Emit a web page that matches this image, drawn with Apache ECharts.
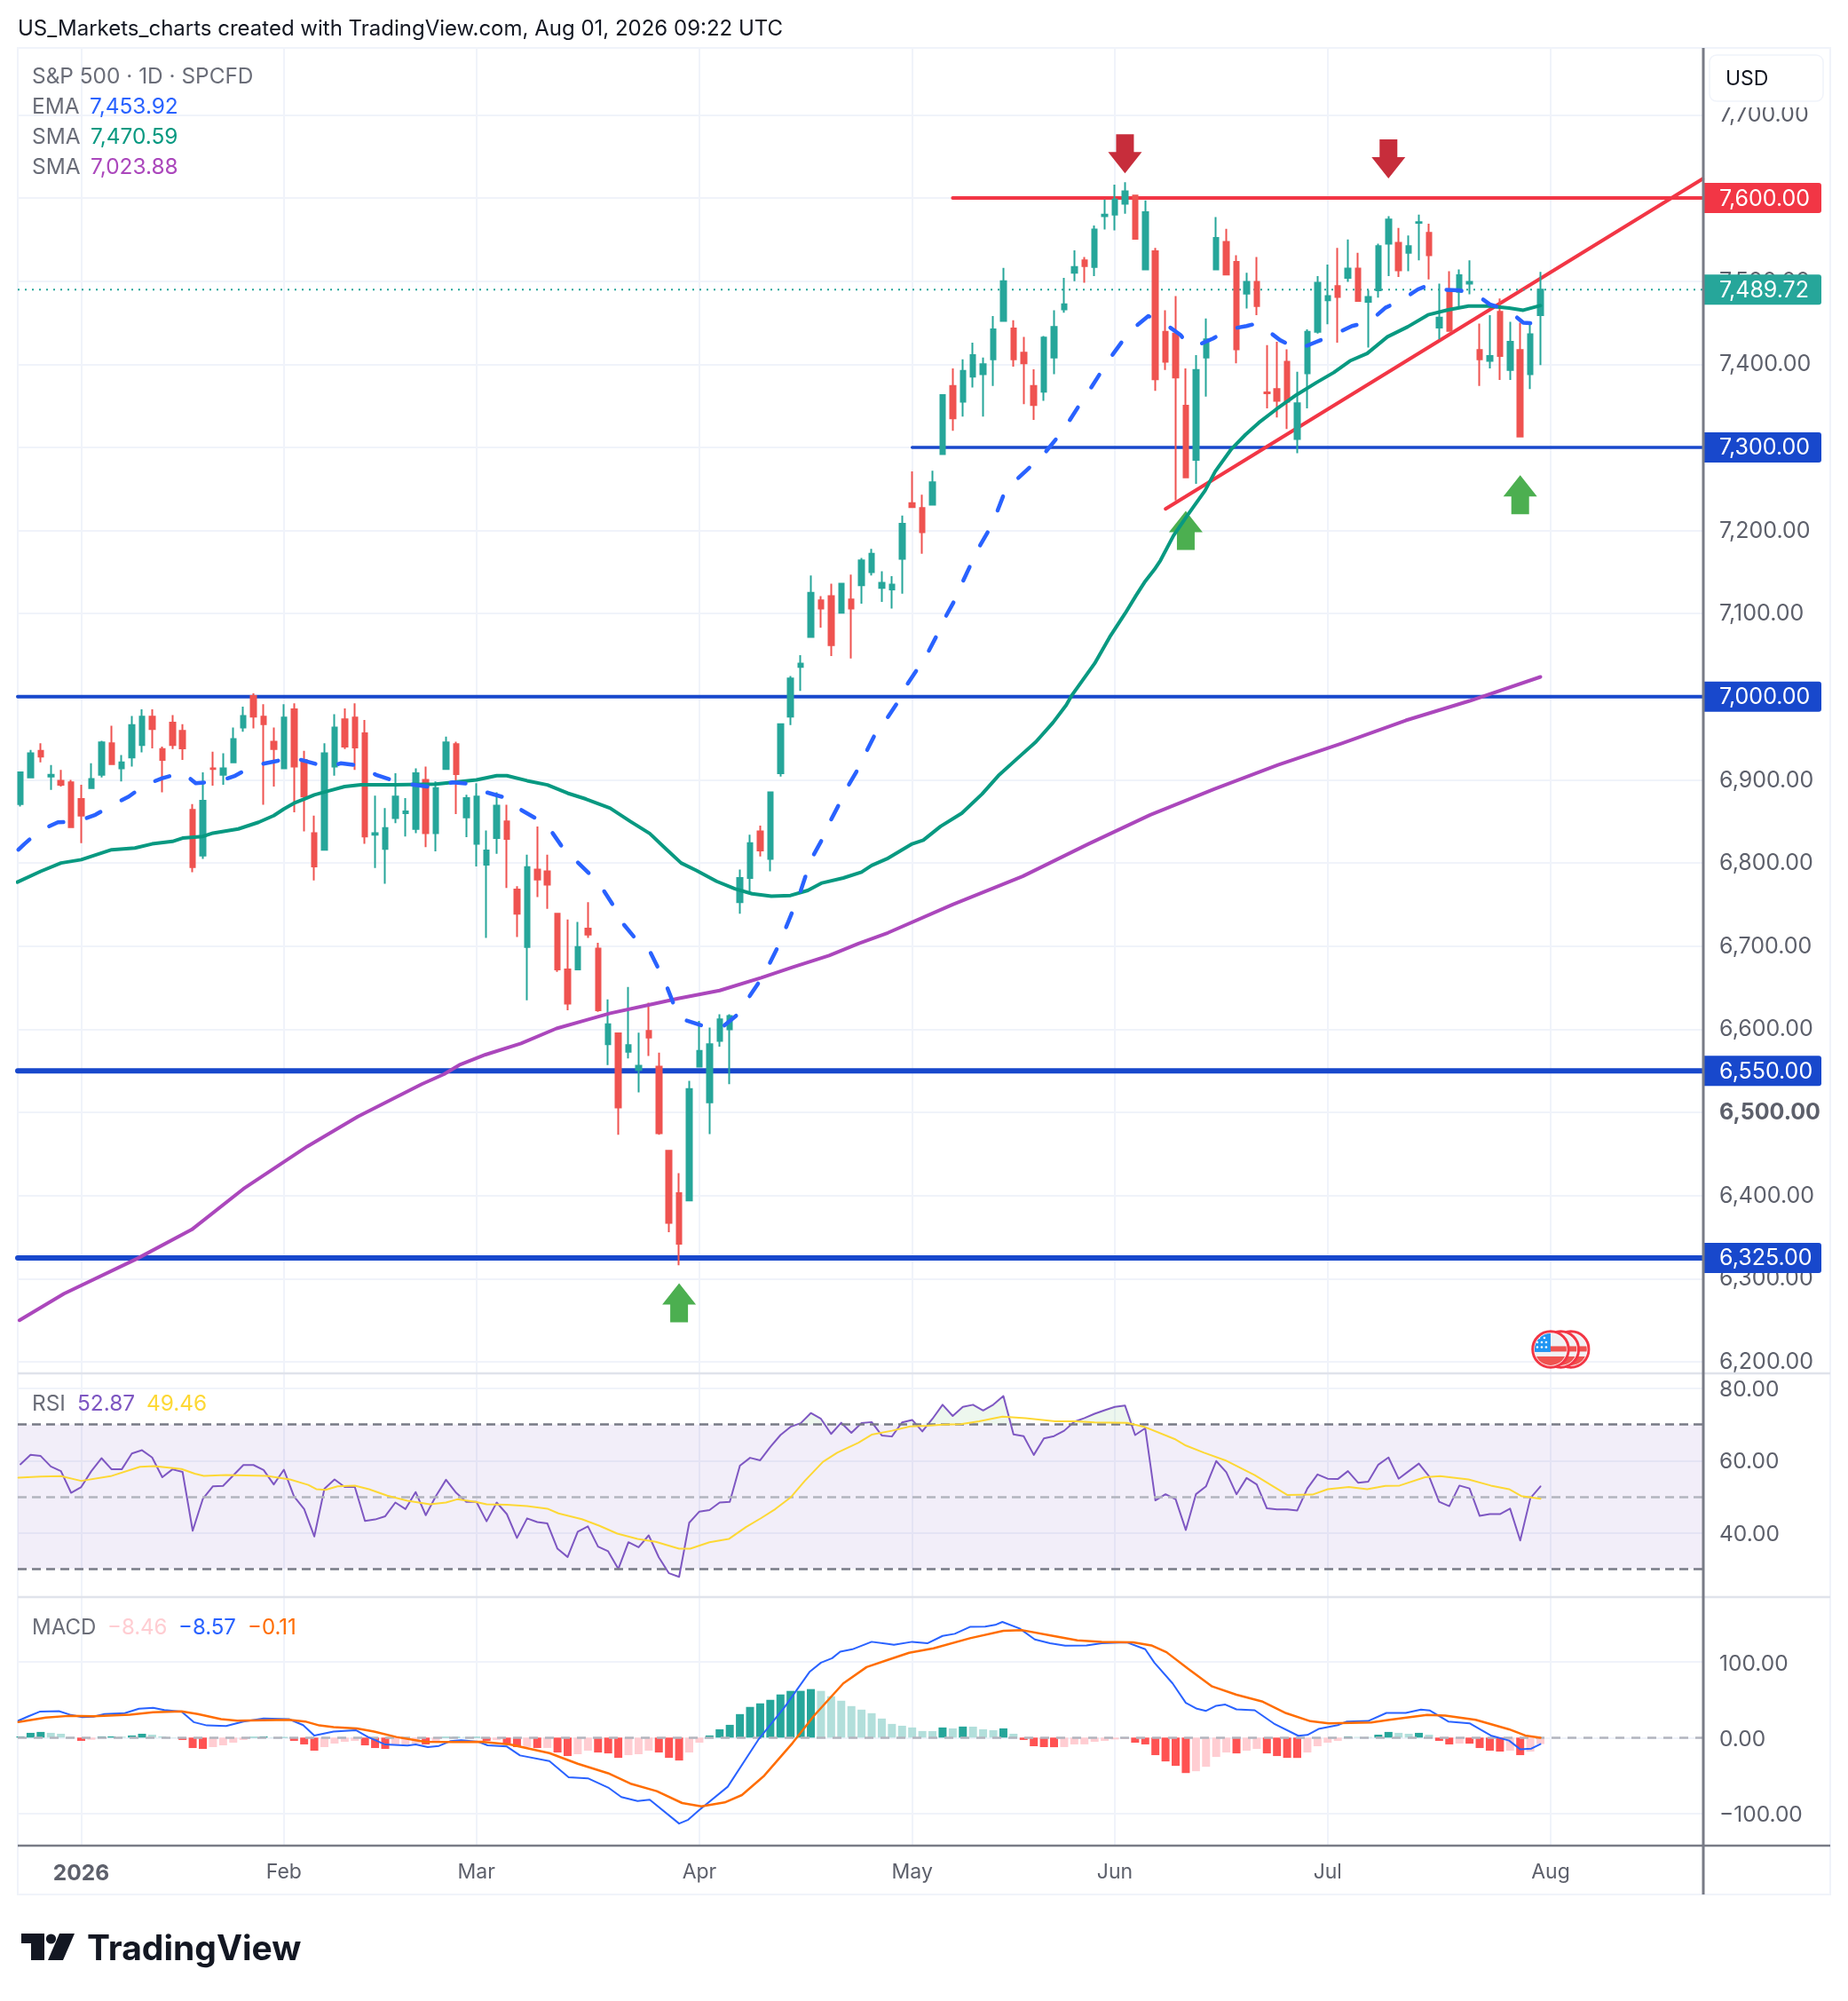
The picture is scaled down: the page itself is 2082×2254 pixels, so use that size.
<!DOCTYPE html>
<html>
<head>
<meta charset="utf-8">
<script src="https://cdn.jsdelivr.net/npm/echarts@6/dist/echarts.min.js"></script>
<style>html,body{margin:0;padding:0;background:#fff}#c{width:2082px;height:2254px}</style>
</head>
<body>
<div id="c"></div>
<script>
// ---------- candles: first bar is index -6, index 0 = 2 Jan 2026 (trading days) ----------
const firstBar = -6;
const direction = "GGRGRR"+"RGGRGGGRRR"+"RRGRGGGRRR"+"GRRRGGRRRG"+"GGGGRGGRGG"+"GGRRGRRRRG"+"RRGRGGRRRR"+"GGGGGGGRGG"+"GGGRRGRGGG"+"GGRRGGRGGG"+"GGRRRGGGGR"+"GGGGRGRRRR"+"GGGRRGRRRR"+"GGGGRGRGGG"+"RGGRGRGGRG"+"RGRGG";
const highs = [6910,6936,6944,6918,6912,6900,
6894,6920,6947,6965,6930,6977,6985,6985,6940,6978,
6967,6871,6909,6934,6932,6963,6988,7004,6991,6963,
6991,6992,6935,6857,6944,6979,6986,6992,6972,6881,
6866,6908,6878,6914,6916,6898,6952,6946,6882,6896,
6839,6885,6870,6772,6810,6844,6810,6739,6732,6729,
6753,6704,6636,6595,6651,6596,6632,6572,6454,6427,
6538,6610,6602,6618,6618,6792,6834,6845,6886,6968,
7025,7050,7146,7121,7136,7137,7147,7167,7178,7151,
7145,7218,7271,7243,7272,7364,7395,7406,7426,7408,
7458,7516,7453,7433,7394,7434,7465,7504,7537,7529,
7567,7598,7616,7619,7603,7597,7540,7465,7482,7395,
7411,7455,7577,7563,7531,7510,7529,7423,7427,7418,
7391,7442,7506,7520,7540,7550,7534,7489,7545,7578,
7564,7555,7580,7569,7497,7512,7514,7525,7449,7459,
7479,7451,7450,7448,7511];
const bodyTops = [6909,6932,6935,6906,6899,6897,
6877,6901,6945,6944,6921,6966,6976,6976,6937,6969,
6959,6864,6875,6914,6914,6949,6977,7001,6976,6946,
6975,6985,6924,6836,6932,6963,6973,6975,6956,6836,
6842,6880,6862,6908,6900,6890,6945,6943,6878,6880,
6815,6869,6850,6768,6795,6792,6790,6739,6672,6699,
6721,6697,6606,6595,6581,6556,6598,6555,6454,6403,
6528,6574,6582,6612,6616,6782,6824,6838,6885,6967,
7022,7040,7125,7116,7121,7136,7117,7164,7172,7137,
7135,7208,7233,7227,7258,7363,7374,7392,7411,7400,
7442,7500,7443,7414,7374,7432,7445,7472,7517,7525,
7562,7580,7598,7608,7603,7583,7536,7439,7437,7350,
7393,7430,7552,7547,7523,7499,7499,7366,7370,7403,
7353,7439,7498,7482,7494,7515,7515,7481,7542,7574,
7546,7542,7571,7558,7456,7487,7507,7499,7417,7410,
7463,7427,7417,7436,7489.72];
const bodyBottoms = [6871,6903,6928,6904,6894,6843,
6857,6890,6906,6919,6914,6927,6942,6961,6924,6942,
6938,6795,6809,6913,6906,6921,6963,6976,6967,6937,
6914,6916,6880,6796,6816,6916,6940,6939,6832,6834,
6817,6854,6860,6841,6836,6836,6913,6907,6855,6823,
6798,6830,6829,6739,6699,6780,6774,6672,6631,6672,
6714,6623,6582,6506,6573,6551,6590,6475,6367,6342,
6394,6555,6512,6586,6600,6753,6782,6815,6805,6908,
6976,7036,7072,7106,7062,7101,7106,7134,7150,7131,
7129,7166,7228,7198,7231,7292,7335,7355,7385,7388,
7406,7452,7406,7401,7351,7367,7408,7466,7510,7518,
7517,7578,7580,7593,7551,7514,7382,7403,7384,7264,
7285,7408,7514,7508,7418,7485,7470,7365,7356,7355,
7310,7389,7439,7477,7481,7504,7476,7475,7489,7545,
7513,7534,7570,7531,7444,7440,7487,7497,7406,7404,
7410,7393,7313,7388,7459];
const lows = [6868,6903,6921,6888,6892,6843,
6824,6890,6903,6919,6898,6916,6933,6938,6885,6937,
6924,6789,6805,6893,6894,6921,6958,6962,6870,6892,
6913,6861,6838,6779,6816,6905,6937,6912,6823,6794,
6775,6848,6832,6836,6819,6814,6913,6859,6831,6796,
6710,6811,6770,6711,6635,6759,6745,6669,6623,6672,
6710,6621,6557,6473,6565,6524,6568,6473,6356,6316,
6394,6554,6474,6579,6534,6739,6763,6808,6790,6904,
6966,7007,7072,7083,7049,7101,7046,7112,7146,7114,
7106,7124,7228,7172,7231,7292,7320,7337,7372,7337,
7374,7452,7397,7352,7333,7356,7388,7462,7500,7498,
7506,7562,7561,7581,7550,7514,7368,7393,7236,7264,
7256,7361,7514,7507,7401,7467,7459,7347,7336,7322,
7293,7347,7437,7448,7426,7499,7476,7420,7480,7506,
7505,7512,7525,7502,7430,7439,7469,7484,7374,7395,
7381,7381,7312,7370,7399];

// ---------- moving averages (sampled bar index, value) ----------
const ema20X = [-6.2,-5.6,-4.1,-2.3,-0.4,1.4,3.1,4.7,6.3,8,10,11.3,13.5,15.2,17,19.4,20.5,22.3,24.4,25.6,27.6,29.1,31.1,32.3,34.8,36.6,38.5,40,42,43.4,45.1,46.4,47.6,48.9,50.4,51.5,52.6,53.4,54.7,56.1,57,57.8,58.5,58.9,59.6,61.4,63.3,64.7,65.8,66.9,67.8,68.7,69.4,70.2,70.9,71.5,72.1,73.1,73.9,74.8,75.6,76.6,77.4,78.3,79.4,80.5,81.4,82.5,83.5,84.4,85.2,86.1,86.9,87.7,88.5,89.5,90.3,91,92.2,93.6,94.2,95,96.2,97.3,98.4,99.4,100.5,101.5,102.7,103.8,105.3,106.9,108.5,109.1,110,111.7,113.2,115,116,116.8,118.3,120.1,121.9,123.5,125.4,127.1,128.7,130.3,131.9,132.9,133.9,135.9,137.4,139,140.8,142.3,143.3,144];
const ema20 = [6816,6823,6839,6849,6850,6858,6870,6880,6894,6902,6909,6896,6898,6905,6917,6923,6928,6922,6915,6920,6917,6906,6898,6895,6891,6897,6895,6885,6878,6864,6852,6838,6817,6802,6784,6768,6747,6728,6709,6694,6672,6651,6629,6617,6611,6604,6603,6617,6637,6657,6676,6698,6718,6742,6763,6785,6806,6828,6850,6871,6891,6912,6932,6954,6972,6992,7013,7033,7052,7073,7094,7114,7136,7157,7178,7199,7220,7242,7260,7276,7280,7292,7310,7328,7349,7367,7388,7407,7427,7443,7458,7449,7435,7425,7422,7431,7442,7446,7449,7443,7429,7418,7427,7435,7446,7451,7468,7477,7490,7495,7490,7489,7486,7472,7465,7450,7449,7453.92];
const sma50X = [-6.3,-4,-2,0,3,5.3,7,9,10,12,13,15.5,17.5,19,20,21,22,23,24.5,26,27.6,31,35,39,41,42,44,46,48,49.8,52.2,54.2,56.1,57.7,59.2,60.7,62.7,64.5,66.2,68.1,70,71.7,73.1,75.2,77,78,79.5,82,83.1,84.8,86.9,88.9,90.5,92.4,94.2,95.9,97.2,97.7,100,101.5,103,104.1,105,105.9,106.5,107.8,109.2,110.9,111.9,113.5,114.9,116.2,117.9,119.9,121.9,123.6,125.2,126.9,128.9,130.9,132.9,134.9,136.9,138.9,140.9,142.3,144];
const sma50 = [6777,6790,6800,6804,6816,6818,6823,6826,6830,6832,6836,6841,6849,6857,6865,6872,6877,6882,6887,6892,6894,6894,6895,6900,6905,6905,6899,6894,6884,6877,6866,6850,6835.5,6817,6800,6791,6778,6769,6763,6760,6761,6767,6776,6782,6789,6797,6805,6823,6827.5,6844,6860,6883,6905,6926,6945.6,6969,6990,7000.7,7040,7072,7100,7122,7139,7153,7164,7194,7219,7248,7271,7298,7315.4,7329.6,7345.6,7363,7378,7390,7404,7413,7433,7445,7459.4,7465.4,7470,7470,7467.6,7465,7470.59];
const sma200X = [-6.1,-1.7,5.5,10.9,16,22.3,27.3,33.6,35.8,37.3,39.9,43.4,46.9,49.8,52.2,56.3,58.9,63,67.1,70.3,73.8,76.7,79.6,86,92.9,99.4,105.5,111.8,118.1,124.4,130.7,137,144];
const sma200 = [6250,6282,6324,6359,6408,6459,6495,6534,6546,6557,6569.5,6583,6601,6611,6619.3,6630,6637,6646.6,6662,6675,6688.6,6703,6716,6750,6784,6823,6858,6889,6918,6944,6971.5,6995,7023.88];

// ---------- drawings ----------
const fullLevels = [7000,6550,6325];
const resistanceStart = [86,7600];
const supportStart = [82,7300];
const trendline = [[107,7226],[160,7623]];
const lastPrice = 7489.72;
const upArrows = [[59,6271],[109,7200],[142,7243]];
const downArrows = [[103,7653],[129,7647]];
const priceTags = [[7600,'#F23645'],[7489.72,'#26A69A'],[7300,'#1848CC'],[7000,'#1848CC'],[6550,'#1848CC'],[6325,'#1848CC']];
const eventMarks = [[147,6215],[146,6215],[145,6215]];

// ---------- RSI ----------
const rsi = [59,61.6,61.3,58.4,57.1,51.1,52.7,57.1,60.7,57.6,57.6,62,62.9,60.9,55.4,57.6,56.9,40.6,49.4,52.9,53,55.9,58.8,58.8,57.4,53.4,57.5,50.1,46.6,39,52.2,54.8,52.7,52.7,43.3,43.7,44.6,48.4,46.6,51.3,44.9,50.2,54.7,51.1,48.6,48.6,43.2,48.4,45.2,38.6,44,43,42.6,35.6,33.3,40.3,41.8,36.2,34.9,30,37.4,36,39.3,33.2,28.8,27.8,42.8,45.9,46.3,
48.4,48.6,58.6,60.8,60.1,63.8,67.1,69.4,70.4,73.2,71.6,67.4,70.5,67.7,70.4,70.7,67,66.7,70.6,71.3,68.1,71.6,75.5,72.4,74.9,75.5,73.9,75.5,77.9,67.3,66.8,61.6,66.2,66.8,68.3,70.8,71.8,73,74,74.9,75.3,67.1,69,49,50.7,49.3,40.8,50.7,52.9,59.9,56.8,50.7,55.2,53.4,46.8,46.5,46.5,46.2,52.3,56.2,55,54.9,57.1,53.9,54.2,58.9,60.9,55,57.1,59.2,55.7,48.6,47.4,53.1,52.3,44.7,45.2,45.2,46.7,37.9,49.6,52.87];
const rsiMaX = [-6.2,-4,-2,0,2.9,5.8,7.2,9.9,11.2,12.1,14.3,18.3,20.6,22.4,23.2,24.1,25.3,27,28.4,30.2,32.2,34.4,36,37.1,38.9,40,42,44,46,47.1,49.4,51.1,52.9,54.9,56.7,59,60.1,62,63.9,65.6,67.1,68.5,70,71.4,73.2,74.6,76.7,78,80,81.8,83.5,85,86.8,88.6,90.9,93.2,96.1,98.2,100,103.2,105,107.9,109,110.8,112.9,115.8,119,121.5,123,125.1,126.9,128.7,130.1,132.6,134.1,136.9,139.1,140.9,142.1,144];
const rsiMa = [55.3,55.6,55.7,54.4,55.7,58.3,58.5,57.7,56.4,55.8,56,55.8,54.8,53.3,52.1,51.9,52.9,53.1,52.1,50.3,48.9,47.9,48.4,49.3,48.6,47.9,47.8,47.4,46.7,45.4,43.8,42,39.8,38.3,37.5,35.6,35.6,37.4,38.3,41.6,44.1,46.6,49.8,54.4,59.7,62.2,65,67.2,68.3,69.5,69.7,70,70.1,70.9,72.2,71.8,70.9,70.9,70.6,70.5,69.3,66,64.2,62.2,60.1,56,50.5,50.6,52.1,52.7,52.1,53,53.1,55.4,55.7,54.8,53.1,52.1,50.2,49.46];

// ---------- MACD ----------
const macdX = [-6.2,-5.2,-4.1,-2.2,-1,0.1,1.2,2.3,4.3,5.7,7.1,8.2,9.9,11.1,12.4,14.3,16,18,20.5,21.9,23,24.9,27.1,28.3,30,32.2,33,34.2,35.3,36.4,37.5,39.2,40.1,42,43.3,46.2,48.1,50,52,53.3,54.9,56.1,59,59.9,61,63.8,66.8,69.4,71.9,73,74.1,74.9,76.1,78,79.6,80.2,82,83.5,85,86.2,87.7,89.2,90.2,90.9,92.6,94.1,95.6,97.1,99.2,100.7,103.2,105,105.9,107.7,109,110.1,111,112,112.9,114,115.8,117.7,120.1,121,122.1,124,124.9,127,128.8,130.7,132.2,133.1,134.9,137,139.1,140.9,142,143.1,144];
const macd = [22.4,28.3,34.3,35,29.9,27.2,27.6,31.1,32.3,38.2,39.4,36.6,34.3,20.5,16.1,15.4,21.3,25.2,24.4,16.5,2.8,7.9,9.8,0.8,-9.1,-10.6,-9.1,-12.6,-11,-4.7,-3.5,-5.5,-10.2,-11.8,-23.6,-31.1,-52.4,-53.9,-66.1,-78.7,-83.9,-82.3,-113.8,-108.7,-95.7,-65,-3.1,40.2,87.4,99.2,105.1,113.8,116.9,126.8,124,122.8,126.8,124.8,134.6,137.4,146.5,146.9,149.2,153.1,144.5,129.9,124.8,121.7,122,124.8,126,116.9,99.2,71.7,46.1,38.2,35.4,42.1,43.7,37.4,36.2,18.5,2.4,3.5,11.4,16.5,21.3,22,32.7,32.7,37,35.8,21.3,18.9,2.8,-3.9,-15.4,-14.6,-8.57];
const signalX = [-6.2,-3.5,-1.3,1.2,4.8,7.1,9.9,11.5,13.8,15.4,20.5,22.1,23.5,24.9,27.2,28.9,31.1,33.9,36.7,39.5,42.3,46.2,49,52,54.3,56.8,59.3,61.2,63.5,65.2,67.4,70.2,72.4,75.2,77.5,79.6,81.7,84.1,87.7,91,92.9,95.9,98.3,100.7,103.8,105.6,107.1,109.2,111.6,114,116.5,118.9,121.3,123.1,127.3,129.1,132.8,134.6,137.6,140.9,142.5,144];
const signal = [20.5,26.4,28.7,28.3,30.3,33.5,34.6,31.1,24.4,22.4,23.6,21.3,16.1,13.8,12.2,7.9,0.8,-5.5,-5.9,-5.5,-9.1,-20.5,-34.6,-47.2,-61.4,-70.9,-86.6,-90.9,-85.8,-76,-50.4,-7.1,30.3,71.7,93.3,102.8,112.2,118.1,131.5,141.3,142.1,134.6,128.7,126.8,126,122,113,91.3,67.7,56.7,48,32.3,21.7,18.9,20.1,23.6,29.9,29.1,23.6,11,2.8,-0.11];
const hist = [1.6,6.3,7.5,6.3,5.1,0.8,-4.3,-2.8,1.6,1.6,1.2,2.8,5.1,3.9,1.6,0.4,-3.1,-13.8,-15,-12.6,-10.2,-6.7,-3.1,0.8,1.6,0.5,0.6,-4.3,-9,-17.3,-12.6,-7.9,-5.5,-4.3,-10.2,-13.8,-15,-10.2,-9,-8,-9,-4.3,0.8,0.8,0.7,0.8,-4.3,-3.5,-9,-12.6,-12.5,-13.8,-13.7,-19.7,-24.4,-22,-17.3,-19.7,-20.9,-26.8,-23.2,-22,-17.3,-19.7,-26.8,-30.3,-19.7,-6.7,2.8,11,16.9,31.1,40.6,45.3,50,57.1,61.8,61.9,64.2,61.8,54.7,48.8,41.7,37,32.3,25.2,18.1,15.7,13.4,8.7,8.6,13.4,12.2,14.6,14.5,11,9.8,12.2,5.1,-3.1,-11.4,-12.6,-12.7,-12.5,-9,-8.9,-5.5,-4.3,-2.4,-2,-6.7,-9,-23.2,-31.5,-37.4,-46.9,-44.5,-38.6,-25.6,-19.7,-20.9,-17.3,-15,-20.9,-24.4,-26.8,-26.9,-19.7,-11.4,-6.7,-4.3,1.6,0.8,0.7,3.9,7.5,6.3,5.1,6.3,3.9,-4.3,-9,-7.9,-8,-13.8,-17.3,-18.5,-17.3,-23.2,-18.5,-8.46];

// ---------- ticks ----------
const timeTicks = [0,20,39,61,82,102,123,145];
const timeLabels = ['2026','Feb','Mar','Apr','May','Jun','Jul','Aug'];
const priceTicks = [6200,6300,6400,6500,6600,6700,6800,6900,7000,7100,7200,7300,7400,7500,7600,7700];
const rsiTicks = [40,60,80];
const macdTicks = [-100,0,100];

// ---------- layout ----------
const FONT = 'Inter, "Noto Sans", sans-serif';
const plotL = 20, plotR = 1919, frameR = 2062;
const xMin = -6.263, xMax = 160.07;
const UP = '#26A69A', DOWN = '#EF5350', GRID = '#F0F3FA', AXIS = '#787B86', TXT = '#5D606B';

const fmt = v => v.toLocaleString('en-US',{minimumFractionDigits:2,maximumFractionDigits:2}).replace('-','\u2212');
const zip = (x,y) => x.map((v,k)=>[v,y[k]]);
const barIdx = k => firstBar + k;

const candleData = highs.map((h,k)=>{
  const up = direction[k]==='G';
  return [barIdx(k), up?bodyBottoms[k]:bodyTops[k], up?bodyTops[k]:bodyBottoms[k], lows[k], h];
});

function xAxisOf(gridIndex, showLabels){
  return {type:'value',gridIndex,min:xMin,max:xMax,axisLine:{show:false},
    axisTick:{show:false,customValues:timeTicks},
    splitLine:{show:true,lineStyle:{color:GRID,width:2}},
    axisLabel: showLabels ? {show:true,customValues:timeTicks,margin:19,fontFamily:FONT,fontSize:23,color:TXT,
      formatter:v=>{const s=timeLabels[timeTicks.indexOf(v)]||'';return s==='2026'?'{b|'+s+'}':s;},
      rich:{b:{fontWeight:'bold',fontFamily:FONT,fontSize:24.5,color:TXT}}} : {show:false}};
}
function yAxisOf(gridIndex,min,max,ticks,bold,size,padTop){
  return {type:'value',gridIndex,position:'right',min,max,scale:true,axisLine:{show:false},
    axisTick:{show:false,customValues:ticks},
    splitLine:{show:true,lineStyle:{color:GRID,width:2}},
    axisLabel:{show:true,customValues:ticks,inside:false,margin:18,align:'left',fontFamily:FONT,fontSize:size,color:TXT,padding:[padTop,0,0,0],
      formatter:v=> v===bold?'{b|'+fmt(v)+'}':fmt(v),
      rich:{b:{fontWeight:'bold',fontFamily:FONT,fontSize:size,color:TXT}}}};
}
function plain(name,data,color,width,extra,xi,yi){
  return Object.assign({type:'line',name,data,xAxisIndex:xi||0,yAxisIndex:yi||0,showSymbol:false,symbol:'none',
    silent:true,lineStyle:{color,width,cap:'round',join:'round'},z:2},extra||{});
}
const arrowUpPath = 'path://M19 0 L38 24 L29 24 L29 44 L9 44 L9 24 L0 24 Z';
const arrowDownPath = 'path://M9 0 L29 0 L29 20 L38 20 L19 44 L0 20 L9 20 Z';
const flagSvg = encodeURIComponent('<svg xmlns="http://www.w3.org/2000/svg" width="88" height="88" viewBox="0 0 44 44"><defs><clipPath id="k"><circle cx="22" cy="22" r="18"/></clipPath></defs><circle cx="22" cy="22" r="20.2" fill="#fff" stroke="#F23645" stroke-width="3"/><g clip-path="url(#k)"><rect width="44" height="44" fill="#F1F1F4"/><rect x="0" y="18.5" width="44" height="6" fill="#EF5350"/><rect x="0" y="30" width="44" height="14" fill="#EF5350"/><rect x="0" y="0" width="22" height="25" fill="#2196F3"/><g fill="#fff"><circle cx="9" cy="9" r="1.3"/><circle cx="15" cy="9" r="1.3"/><circle cx="7" cy="14" r="1.3"/><circle cx="12" cy="14" r="1.3"/><circle cx="17" cy="14" r="1.3"/><circle cx="7" cy="19.5" r="1.3"/><circle cx="12" cy="19.5" r="1.3"/><circle cx="17" cy="19.5" r="1.3"/></g></g></svg>');

const series = [];
// horizontal levels
fullLevels.forEach((lv,k)=>series.push(plain('level',[[xMin,lv],[xMax,lv]],'#1848CC',k===0?4:6)));
series.push(plain('resistance',[resistanceStart,[xMax,resistanceStart[1]]],'#F23645',4));
series.push(plain('support',[supportStart,[xMax,supportStart[1]]],'#1848CC',3.5));
series.push(plain('trend',trendline,'#F23645',4));
series.push(plain('last',[[xMin,lastPrice],[xMax,lastPrice]],UP,2,{lineStyle:{color:UP,width:2,type:[2,6]}}));
series.push({type:'scatter',data:upArrows,symbol:arrowUpPath,symbolSize:[38,44],itemStyle:{color:'#4CAF50',opacity:1},silent:true,z:2});
series.push({type:'scatter',data:downArrows,symbol:arrowDownPath,symbolSize:[38,44],itemStyle:{color:'#C72D3B',opacity:1},silent:true,z:2});
series.push({type:'scatter',data:eventMarks,symbol:'image://data:image/svg+xml;charset=utf-8,'+flagSvg,symbolSize:44,itemStyle:{opacity:1},silent:true,z:3});
// candles
series.push({type:'candlestick',layout:'horizontal',data:candleData,encode:{x:0,y:[1,2,3,4]},barWidth:6,silent:true,z:3,
  itemStyle:{color:UP,color0:DOWN,borderColor:UP,borderColor0:DOWN,borderWidth:2}});
// MAs
series.push(plain('SMA200',zip(sma200X,sma200),'#AB47BC',4,{z:4}));
series.push(plain('SMA50',zip(sma50X,sma50),'#089981',4,{z:4}));
series.push(plain('EMA',zip(ema20X,ema20),'#2962FF',4.5,{z:4,lineStyle:{color:'#2962FF',width:4.5,type:[17,27],cap:'round',join:'round'}}));
// tags
series.push({type:'custom',xAxisIndex:0,yAxisIndex:0,z:20,silent:true,clip:false,
  data:priceTags.map(t=>[0,t[0]]),encode:{x:0,y:1},
  renderItem:(params,api)=>{
    const t = priceTags[params.dataIndex];
    const y = api.coord([0,api.value(1)])[1];
    return {type:'group',children:[
      {type:'rect',shape:{x:plotR+1,y:y-17,width:132,height:34,r:[0,3,3,0]},style:{fill:t[1]}},
      {type:'text',style:{x:plotR+18,y:y+1,text:fmt(t[0]),fill:'#fff',font:'25px '+FONT,verticalAlign:'middle',align:'left'}}
    ]};
  }});
// RSI pane
series.push(plain('RSI>70',rsi.map((v,k)=>[barIdx(k),Math.max(v,70)]),UP,0,{lineStyle:{width:0,opacity:0},areaStyle:{origin:70,color:'rgba(76,175,80,0.14)'}},1,1));
series.push(plain('RSI',rsi.map((v,k)=>[barIdx(k),v]),'#7E57C2',2,{z:4,
  markArea:{silent:true,itemStyle:{color:'rgba(126,87,194,0.1)'},data:[[{yAxis:70},{yAxis:30}]]},
  markLine:{silent:true,symbol:'none',label:{show:false},animation:false,data:[
    {yAxis:70,lineStyle:{color:AXIS,width:2.5,type:[10,6]}},
    {yAxis:50,lineStyle:{color:'#B2B5BE',width:2.5,type:[10,6]}},
    {yAxis:30,lineStyle:{color:AXIS,width:2.5,type:[10,6]}}]}},1,1));
series.push(plain('RSI MA',zip(rsiMaX,rsiMa),'#FDD835',2,{z:5},1,1));
// MACD pane
series.push({type:'bar',xAxisIndex:2,yAxisIndex:2,barWidth:9,silent:true,z:2,
  data:hist.map((v,k)=>{
    const prev = k>0?hist[k-1]:0;
    const c = v>=0 ? (v>=prev?UP:'#B2DFDB') : (v>=prev?'#FFCDD2':'#FF5252');
    return {value:[barIdx(k),v],itemStyle:{color:c}};
  }),
  markLine:{silent:true,symbol:'none',label:{show:false},animation:false,z:3,data:[{yAxis:0,lineStyle:{color:'#B2B5BE',width:2.5,type:[10,8]}}]}});
series.push(plain('MACD',zip(macdX,macd),'#2962FF',2,{z:4},2,2));
series.push(plain('Signal',zip(signalX,signal),'#FF6D00',2.5,{z:5},2,2));

const T = (text,x,y,fill,size,weight) => ({type:'text',z:100,silent:true,style:{x,y,text,fill,font:(weight?weight+' ':'')+size+'px '+FONT,verticalAlign:'middle',align:'left'}});
const L = (x1,y1,x2,y2,stroke,w) => ({type:'line',z:50,silent:true,shape:{x1,y1,x2,y2},style:{stroke,lineWidth:w}});
const LEG = '#6A6D78';
const graphic = [
  {type:'rect',z:1,silent:true,shape:{x:20,y:54,width:frameR-20,height:2134-54},style:{fill:'none',stroke:GRID,lineWidth:2}},
  L(20,1547,frameR,1547,'#E0E3EB',2.5),
  L(20,1799,frameR,1799,'#E0E3EB',2.5),
  L(plotR,54,plotR,2134,AXIS,3),
  L(20,2079,frameR,2079,AXIS,2.5),
  {type:'rect',z:90,silent:true,shape:{x:1921,y:56,width:138,height:65},style:{fill:'#fff'}},
  {type:'rect',z:91,silent:true,shape:{x:1926,y:62,width:128,height:52,r:8},style:{fill:'#fff',stroke:'#F0F3FA',lineWidth:1.5}},
  T('USD',1944,89,'#131722',23),
  T('US_Markets_charts created with TradingView.com, Aug 01, 2026 09:22 UTC',20,33,'#131722',24),
  T('S&P 500 \u00B7 1D \u00B7 SPCFD',36,87,LEG,24.4),
  T('EMA',36,121,LEG,24.4), T('7,453.92',101,121,'#2962FF',24.4),
  T('SMA',36,155,LEG,24.4), T('7,470.59',102,155,'#089981',24.4),
  T('SMA',36,189,LEG,24.4), T('7,023.88',102,189,'#AB47BC',24.4),
  T('RSI',36,1582,LEG,24.4), T('52.87',87,1582,'#7E57C2',24.4), T('49.46',165,1582,'#FDD835',24.4),
  T('MACD',36,1834,LEG,24), T('\u22128.46',121,1834,'#FFCDD2',24), T('\u22128.57',201,1834,'#2962FF',24), T('\u22120.11',279,1834,'#FF6D00',24),
  // logo
  {type:'polygon',z:100,silent:true,shape:{points:[[24,2178],[50,2178],[50,2208],[35,2208],[35,2189],[24,2189]]},style:{fill:'#131722'}},
  {type:'circle',z:100,silent:true,shape:{cx:57.5,cy:2184,r:5.6},style:{fill:'#131722'}},
  {type:'polygon',z:100,silent:true,shape:{points:[[67,2178],[84,2178],[71,2208],[54,2208]]},style:{fill:'#131722'}},
  T('TradingView',98,2196,'#131722',39,'bold')
];

const option = {
  animation:false,backgroundColor:'#fff',
  grid:[
    {left:plotL,width:plotR-plotL,top:55,height:1492,containLabel:false},
    {left:plotL,width:plotR-plotL,top:1547,height:252,containLabel:false},
    {left:plotL,width:plotR-plotL,top:1799,height:280,containLabel:false}],
  xAxis:[xAxisOf(0,false),xAxisOf(1,false),xAxisOf(2,true)],
  yAxis:[
    yAxisOf(0,6186.1,7779.4,priceTicks,6500,25,1),
    yAxisOf(1,22.2,84.2,rsiTicks,null,24.5,3),
    yAxisOf(2,-143,186,macdTicks,null,24.5,5)],
  series,graphic
};
const chart = echarts.init(document.getElementById('c'),null,{renderer:'canvas',width:2082,height:2254});
chart.setOption(option);
</script>
</body>
</html>
